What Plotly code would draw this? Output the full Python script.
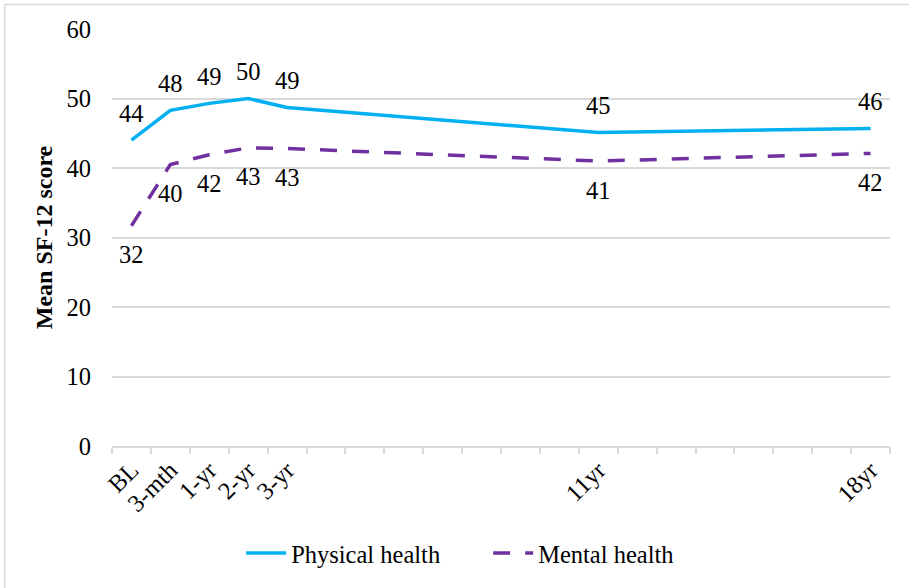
import plotly.graph_objects as go

# Time points (slot index on the x axis; empty slots keep the spacing in years)
tick_labels = ["BL", "3-mth", "1-yr", "2-yr", "3-yr", "11yr", "18yr"]
slots = [0, 1, 2, 3, 4, 12, 19]
n_slots = 20

physical = [44.0, 48.3, 49.3, 50.0, 48.7, 45.1, 45.7]
mental = [31.7, 40.5, 41.9, 42.9, 42.8, 41.0, 42.1]

FONT = "Liberation Serif, Times New Roman, serif"
GRID = "#d9d9d9"
TXT = 24.5

fig = go.Figure()

fig.add_trace(go.Scatter(
    x=slots, y=physical, mode="lines", name="Physical health",
    line=dict(color="#00B0F0", width=3.5),
))
fig.add_trace(go.Scatter(
    x=slots, y=mental, mode="lines", name="Mental health",
    line=dict(color="#7030A0", width=3.5, dash="17px,15px"),
))

# value labels: physical above the line, mental below
for xs, ys, shift in ((slots, physical, 27), (slots, mental, -29)):
    for x, y in zip(xs, ys):
        fig.add_annotation(
            x=x, y=y, text=f"{y:.0f}", showarrow=False, yshift=shift,
            font=dict(family=FONT, size=TXT, color="black"),
        )

# outer chart border
fig.add_shape(type="rect", xref="paper", yref="paper",
              x0=-0.138, x1=1.1, y0=-0.5, y1=1.059,
              line=dict(color=GRID, width=1.5), layer="below")

fig.update_layout(
    width=909, height=588,
    margin=dict(l=112, r=19, t=29, b=139),
    paper_bgcolor="white", plot_bgcolor="white",
    font=dict(family=FONT, size=TXT, color="black"),
    showlegend=True,
    legend=dict(orientation="h", x=0.166, y=-0.257, xanchor="left",
                yanchor="middle", font=dict(family=FONT, size=TXT),
                itemwidth=40, tracegroupgap=0, entrywidth=192),
    xaxis=dict(
        range=[-0.5, n_slots - 0.5],
        tickmode="array",
        tickvals=[i - 0.5 for i in range(n_slots + 1)],
        showticklabels=False,
        ticks="outside", ticklen=6, tickcolor=GRID, tickwidth=1.5,
        showgrid=False, zeroline=False,
        showline=True, linecolor=GRID, linewidth=1.5,
    ),
    xaxis2=dict(
        overlaying="x", side="bottom", anchor="y",
        range=[-0.5, n_slots - 0.5],
        tickmode="array", tickvals=slots, ticktext=tick_labels,
        tickangle=-45, ticks="", showgrid=False, zeroline=False,
        showline=False, tickfont=dict(family=FONT, size=TXT),
        ticklabelstandoff=4,
    ),
    yaxis=dict(
        range=[0, 60], tickvals=[0, 10, 20, 30, 40, 50, 60],
        showgrid=True, gridcolor=GRID, gridwidth=1.5,
        zeroline=False, showline=False, ticks="",
        ticklabelstandoff=20,
        tickfont=dict(family=FONT, size=TXT),
        title=dict(text="<b>Mean SF-12 score</b>",
                   font=dict(family=FONT, size=24), standoff=7),
    ),
)

# invisible trace to bring xaxis2 into the layout
fig.add_trace(go.Scatter(x=[slots[0]], y=[None], xaxis="x2",
                         showlegend=False, hoverinfo="skip"))

fig.write_html("out.html")
